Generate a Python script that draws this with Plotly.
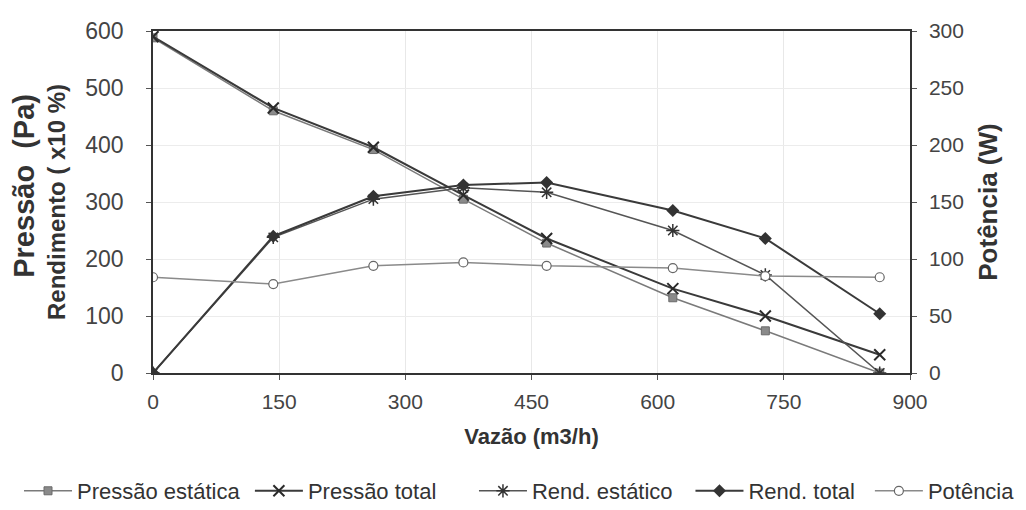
import plotly.graph_objects as go

vazao = [0, 143, 262, 369, 468, 618, 728, 864]
pressao_estatica = [588, 460, 392, 305, 228, 132, 74, 0]
pressao_total = [590, 465, 396, 312, 236, 148, 100, 32]
rend_estatico = [0, 238, 305, 325, 317, 250, 172, 0]
rend_total = [0, 240, 310, 330, 334, 285, 236, 104]
potencia = [84, 78, 94, 97, 94, 92, 85, 84]

x_ticks = [0, 150, 300, 450, 600, 750, 900]

FONT = "Liberation Sans, Arial, sans-serif"

fig = go.Figure()

fig.add_trace(go.Scatter(
    x=vazao, y=pressao_estatica, name="Pressão estática", mode="lines+markers", legend="legend",
    line=dict(color="#7a7a7a", width=1.5),
    marker=dict(symbol="square", size=8, color="#8a8a8a", line=dict(color="#6a6a6a", width=1))))
fig.add_trace(go.Scatter(
    x=vazao, y=pressao_total, name="Pressão total", mode="lines+markers", legend="legend2",
    line=dict(color="#3a3a3a", width=2),
    marker=dict(symbol="x-thin-open", size=11, color="#2a2a2a", line=dict(color="#2a2a2a", width=2))))
fig.add_trace(go.Scatter(
    x=vazao, y=rend_estatico, name="Rend. estático", mode="lines+markers", legend="legend3",
    line=dict(color="#555555", width=1.5),
    marker=dict(symbol="asterisk-open", size=11, color="#333333", line=dict(color="#333333", width=1.5))))
fig.add_trace(go.Scatter(
    x=vazao, y=rend_total, name="Rend. total", mode="lines+markers", legend="legend4",
    line=dict(color="#3a3a3a", width=2),
    marker=dict(symbol="diamond", size=10, color="#333333")))
fig.add_trace(go.Scatter(
    x=vazao, y=potencia, name="Potência", mode="lines+markers", yaxis="y2", legend="legend5",
    line=dict(color="#8a8a8a", width=1.5),
    marker=dict(symbol="circle", size=9, color="white", line=dict(color="#666666", width=1.2))))


def leg(x):
    return dict(orientation="h", x=x, xanchor="left", y=-0.345, yanchor="middle",
                font=dict(family=FONT, size=22, color="#333333"),
                itemwidth=48, bgcolor="rgba(0,0,0,0)")


fig.update_layout(
    width=1010, height=494,
    margin=dict(l=145, r=108, t=23, b=129, autoexpand=False),
    paper_bgcolor="white", plot_bgcolor="white",
    font=dict(family=FONT, color="#333333"),
    xaxis=dict(
        range=[0, 900], tickvals=x_ticks, ticktext=[str(v) for v in x_ticks],
        showgrid=True, gridcolor="#e8e8e8", gridwidth=1,
        showline=True, linecolor="#333333", linewidth=2, mirror=True,
        ticks="outside", ticklen=5, tickcolor="#555555",
        tickfont=dict(family=FONT, size=21, color="#444444"), ticklabelstandoff=4,
        zeroline=False, automargin=False,
        title=dict(text="<b>Vazão (m3/h)</b>", font=dict(family=FONT, size=22, color="#333333"), standoff=16)),
    yaxis=dict(
        range=[0, 600], dtick=100,
        showgrid=True, gridcolor="#ececec", gridwidth=1,
        showline=True, linecolor="#333333", linewidth=1.5,
        ticks="outside", ticklen=5, tickcolor="#555555",
        tickfont=dict(family=FONT, size=23, color="#444444"), ticklabelstandoff=18,
        zeroline=False, automargin=False,
        title=dict(text="<b><span style=\"font-size:29px\">&nbsp;&nbsp;&nbsp;&nbsp;Pressão &nbsp;(Pa)</span>"
                        "<br>Rendimento ( x10 %)</b>",
                   font=dict(family=FONT, size=24, color="#333333"), standoff=14)),
    yaxis2=dict(
        range=[0, 300], dtick=50, overlaying="y", side="right",
        showgrid=False, showline=True, linecolor="#333333", linewidth=1.5,
        ticks="outside", ticklen=5, tickcolor="#555555",
        tickfont=dict(family=FONT, size=21, color="#444444"), ticklabelstandoff=8,
        zeroline=False, automargin=False,
        title=dict(text="<b>Potência (W)</b>", font=dict(family=FONT, size=26, color="#333333"), standoff=16)),
    legend=leg(-0.177),
    legend2=leg(0.128),
    legend3=leg(0.424),
    legend4=leg(0.710),
    legend5=leg(0.947),
    showlegend=True,
)

fig.write_html("out.html")
